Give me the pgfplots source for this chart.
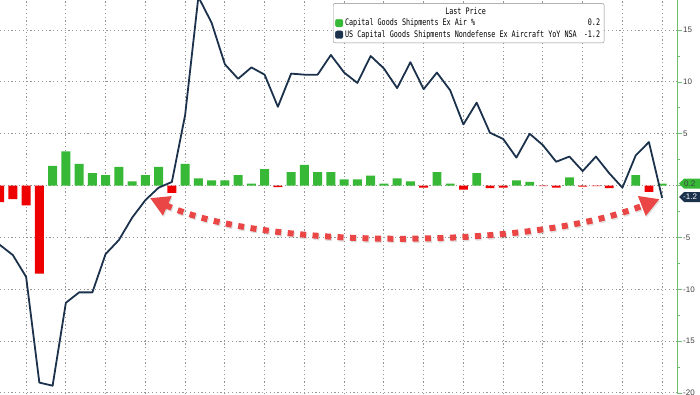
\documentclass[border=0pt]{standalone}
\usepackage{fontspec}
\setmainfont{Liberation Sans}
\newfontfamily\legfont{DejaVu Sans Mono}[FakeStretch=0.75]
\usepackage{pgfplots}
\pgfplotsset{compat=1.18}
\usetikzlibrary{arrows.meta}

\definecolor{cgreen}{RGB}{55,185,55}
\definecolor{cred}{RGB}{238,0,0}
\definecolor{cnavy}{RGB}{28,50,76}
\definecolor{carrow}{RGB}{234,70,70}
\definecolor{caxis}{RGB}{110,190,110}
\definecolor{cgrid}{RGB}{150,150,150}

\begin{document}
\begin{tikzpicture}[font=\fontsize{8}{9.5}\selectfont]
\begin{axis}[
 at={(0,0)}, anchor=south west,
 width=677pt, height=394pt, scale only axis,
 xmin=0.03, xmax=51.12, ymin=-20.1, ymax=17.9,
 clip mode=individual,
 axis line style={draw=none},
 xtick={2,5,...,50}, xticklabels={},
 ytick={-20,-15,-10,-5,0,5,10,15}, yticklabels={-20,-15,-10,-5,,5,10,15},
 ytick pos=right, yticklabel pos=right,
 minor y tick num=1,
 tick align=outside, major tick length=5pt, minor tick length=3pt,
 xtick style={draw=none},
 ytick style={draw=caxis, line width=0.8pt},
 yticklabel style={text=black!75, font=\fontsize{8}{9.5}\selectfont, inner sep=1pt},
 /pgf/number format/assume math mode=true,
 grid=major,
 major grid style={draw=cgrid, dash pattern=on 1.2pt off 2.6pt, line width=1pt},
 legend style={at={(0.4919,0.992)}, anchor=north west, draw=black!45, rounded corners=2pt,
   fill=white, inner sep=2pt, row sep=-0.8pt, font=\legfont\fontsize{9}{10}\selectfont,
   /tikz/every even column/.append style={column sep=2pt}},
 legend cell align=left,
]
% green (positive) bars
\addplot[ybar, bar width=8.8pt, bar shift=0pt, fill=cgreen, draw=none, forget plot] coordinates {
(4,1.9) (5,3.3) (6,2.1) (7,1.2) (8,1.0) (9,1.8) (10,0.4) (11,1.0) (12,1.8)
(14,2.1) (15,0.7) (16,0.5) (17,0.5) (18,1.0) (19,0.2) (20,1.6) (22,1.3) (23,2.0)
(24,1.3) (25,1.3) (26,0.6) (27,0.6) (28,0.95) (29,0.2) (30,0.7) (31,0.4) (33,1.3)
(34,0.2) (36,1.2) (39,0.5) (40,0.35) (43,0.8) (48,1.0) (50,0.2)
};
% red (negative) bars
\addplot[ybar, bar width=8.8pt, bar shift=0pt, fill=cred, draw=none, forget plot] coordinates {
(0,-1.6) (1,-1.3) (2,-1.9) (3,-8.5) (13,-0.7) (21,-0.15) (32,-0.2) (35,-0.4)
(37,-0.25) (38,-0.2) (41,-0.05) (42,-0.2) (44,-0.1) (45,-0.05) (46,-0.25) (49,-0.6)
};
% YoY line
\addplot[cnavy, line width=1.8pt, line join=round, forget plot] coordinates {
(0,-5.7) (1,-6.7) (2,-8.8) (3,-19.0) (4,-19.3) (5,-11.3) (6,-10.3) (7,-10.3)
(8,-6.6) (9,-5.25) (10,-3.1) (11,-1.4) (12,-0.2) (13,0.35) (14,6.8) (15,18.2)
(16,15.7) (17,11.7) (18,10.3) (19,11.4) (20,10.7) (21,7.6) (22,10.8) (23,10.7)
(24,10.7) (25,12.6) (26,10.9) (27,9.9) (28,12.5) (29,11.3) (30,9.4) (31,11.9)
(32,9.3) (33,10.9) (34,9.2) (35,5.9) (36,8.0) (37,5.1) (38,4.5) (39,2.7)
(40,5.0) (41,3.9) (42,2.3) (43,2.8) (44,1.4) (45,2.8) (46,1.2) (47,-0.2)
(48,2.9) (49,4.2) (50,-1.2)
};
\addlegendimage{empty legend}
\addlegendentry{\makebox[255pt][c]{\hspace*{-14pt}Last Price}}
\addlegendimage{legend image code/.code={\fill[cgreen] (0pt,-3.8pt) rectangle (7.5pt,3.8pt);}}
\addlegendentry{\makebox[255pt][l]{Capital Goods Shipments Ex Air \%\hfill 0.2}}
\addlegendimage{legend image code/.code={\fill[cnavy] (0pt,-3.8pt) rectangle (7.5pt,3.8pt);}}
\addlegendentry{\makebox[255pt][l]{US Capital Goods Shipments Nondefense Ex Aircraft YoY NSA\hfill -1.2}}
% annotation arrow
\draw[black, opacity=0.12, line width=6pt, dash pattern=on 6pt off 6.5pt,
  {Triangle[length=19pt,width=20pt]}-{Triangle[length=19pt,width=20pt]}]
  ([xshift=1pt,yshift=-1.5pt]axis cs:11.35,-1.2) .. controls ([xshift=1pt,yshift=-1.5pt]axis cs:20,-6.2) and ([xshift=1pt,yshift=-1.5pt]axis cs:40,-6.2) .. ([xshift=1pt,yshift=-1.5pt]axis cs:49.8,-1.3);
\draw[carrow, line width=6pt, dash pattern=on 6pt off 6.5pt,
  {Triangle[length=19pt,width=20pt]}-{Triangle[length=19pt,width=20pt]}]
  (axis cs:11.35,-1.2) .. controls (axis cs:20,-6.2) and (axis cs:40,-6.2) .. (axis cs:49.8,-1.3);
\coordinate (g) at (axis cs:51.12,0.2);
\coordinate (b) at (axis cs:51.12,-1.1);
\coordinate (ra) at (rel axis cs:1,0);
\coordinate (rb) at (rel axis cs:1,1);
\end{axis}
\draw[caxis, line width=0.8pt] (ra) -- (rb);
% last-value tags
\fill[cgreen] ([xshift=2pt]g) -- ++(5pt,5pt) -- ++(20pt,0) -- ++(0,-10pt) -- ++(-20pt,0) -- cycle;
\node[anchor=west, text=black!75, inner sep=0pt] at ([xshift=7pt]g) {0.2};
\fill[cnavy] ([xshift=2pt]b) -- ++(5pt,5pt) -- ++(20pt,0) -- ++(0,-10pt) -- ++(-20pt,0) -- cycle;
\node[anchor=west, text=white, inner sep=0pt] at ([xshift=6pt]b) {-1.2};
\pgfresetboundingbox
\useasboundingbox (0,0) rectangle (700pt,394pt);
\end{tikzpicture}
\end{document}
